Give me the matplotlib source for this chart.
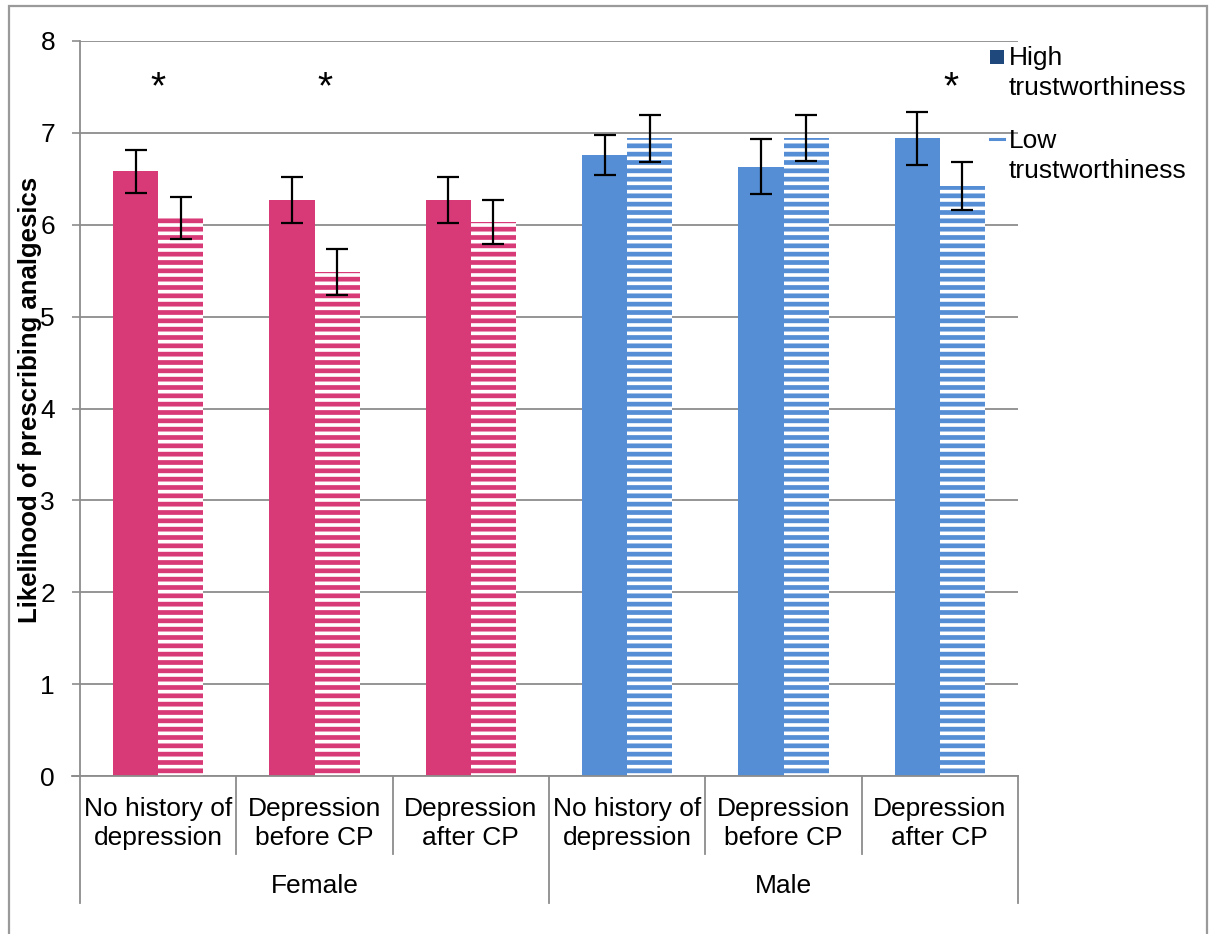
import matplotlib
matplotlib.use("Agg")
import matplotlib.pyplot as plt
from matplotlib.patches import Rectangle
from matplotlib.lines import Line2D
import matplotlib.transforms as mtransforms

plt.rcParams['font.family'] = ['Liberation Sans', 'DejaVu Sans']
plt.rcParams['hatch.linewidth'] = 3.4

# ---- data ----
conditions = ["No history of\ndepression", "Depression\nbefore CP", "Depression\nafter CP",
              "No history of\ndepression", "Depression\nbefore CP", "Depression\nafter CP"]
groups = ["Female", "Male"]
high_vals = [6.58, 6.27, 6.27, 6.76, 6.63, 6.94]
high_err = [0.23, 0.25, 0.255, 0.22, 0.30, 0.29]
low_vals = [6.07, 5.49, 6.03, 6.94, 6.94, 6.42]
low_err = [0.23, 0.25, 0.235, 0.255, 0.25, 0.26]
star_positions = [0.0, 1.07, 5.07]
series_names = ["High\ntrustworthiness", "Low\ntrustworthiness"]

pink = "#D83A78"
blue = "#558ED5"
colors = [pink] * 3 + [blue] * 3
FS = 19

fig = plt.figure(figsize=(12.15, 9.34), dpi=100)
W, H = 1215, 934
ax = fig.add_axes([80 / W, 1 - 776 / H, (1018 - 80) / W, (776 - 41) / H])

x = list(range(len(conditions)))
bw = 0.288
for i in x:
    ax.bar(i - bw / 2, high_vals[i], width=bw, color=colors[i], linewidth=0, zorder=3)
    ax.bar(i + bw / 2, low_vals[i], width=bw, facecolor="white", edgecolor=colors[i],
           hatch="--", linewidth=0, zorder=3)
    ax.errorbar(i - bw / 2, high_vals[i], yerr=high_err[i], fmt="none", ecolor="black",
                elinewidth=1.6, capsize=8, capthick=1.6, zorder=4)
    ax.errorbar(i + bw / 2, low_vals[i], yerr=low_err[i], fmt="none", ecolor="black",
                elinewidth=1.6, capsize=8, capthick=1.6, zorder=4)

for sx in star_positions:
    ax.text(sx, 7.49, "*", ha="center", va="center", fontsize=28, zorder=5)

ax.set_xlim(-0.5, 5.5)
ax.set_ylim(0, 8)
ax.set_yticks(range(0, 9))
ax.tick_params(axis="y", labelsize=FS, length=6, width=1.2, color="#8c8c8c", pad=12)
ax.set_xticks([])
ax.yaxis.grid(True, color="#8c8c8c", linewidth=1.3, zorder=0)
for s in ["top", "right"]:
    ax.spines[s].set_visible(False)
ax.spines["left"].set_color("#8c8c8c")
ax.spines["left"].set_linewidth(1.3)
ax.spines["bottom"].set_visible(False)

# bottom axis line
trans = mtransforms.blended_transform_factory(ax.transData, ax.transAxes)
ax.plot([-0.5 - 8 / 156.3, 5.5], [0, 0], transform=trans, color="#8c8c8c", lw=1.3,
        clip_on=False, zorder=5)

# category labels and dividers
for i, lab in enumerate(conditions):
    ax.text(i, -0.028, lab, transform=trans, ha="center", va="top", fontsize=FS,
            linespacing=1.3)
for d in [0.5, 1.5, 3.5, 4.5]:
    ax.plot([d, d], [0, -78 / 735], transform=trans, color="#8c8c8c", lw=1.3, clip_on=False)
for d in [-0.5, 2.5, 5.5]:
    ax.plot([d, d], [0, -127 / 735], transform=trans, color="#8c8c8c", lw=1.3, clip_on=False)
for g, gx in zip(groups, [1, 4]):
    ax.text(gx, -110 / 735, g, transform=trans, ha="center", va="center", fontsize=FS)

ax.set_ylabel("Likelihood of prescribing analgesics", fontsize=18.5, fontweight="bold")
ax.yaxis.set_label_coords(42 / W, 1 - 400 / H, transform=fig.transFigure)

# legend (manual)
fig.patches.append(Rectangle((990 / W, 1 - 64 / H), 14 / W, 14 / H, transform=fig.transFigure,
                             facecolor="#1F497D", edgecolor="none"))
fig.lines.append(Line2D([990 / W, 1004 / W], [1 - 139 / H, 1 - 139 / H],
                        transform=fig.transFigure, color=blue, lw=2.2))
fig.text(1009 / W, 1 - 73 / H, series_names[0], fontsize=FS, va="center", ha="left",
         linespacing=1.3)
fig.text(1009 / W, 1 - 156 / H, series_names[1], fontsize=FS, va="center", ha="left",
         linespacing=1.3)

# outer frame
fig.patches.append(Rectangle((9 / W, -0.05), (1207 - 9) / W, 1.05 - 6 / H,
                             transform=fig.transFigure, fill=False, edgecolor="#9a9a9a", lw=1.6))

fig.savefig("out.png", dpi=100)
